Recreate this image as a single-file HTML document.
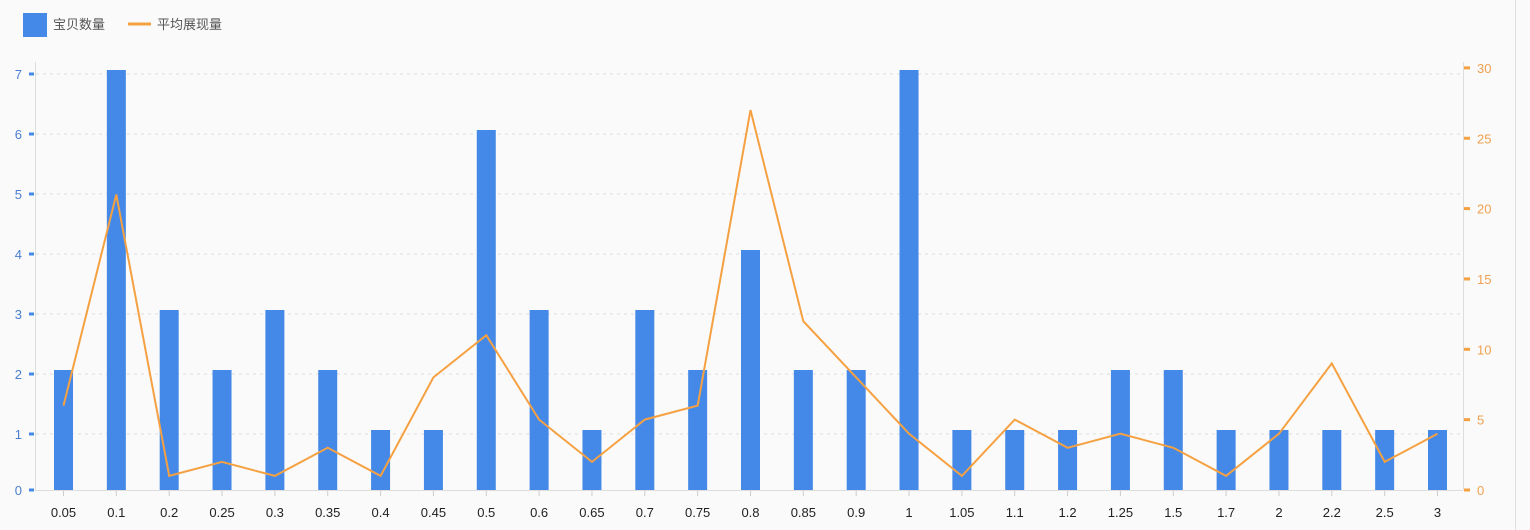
<!DOCTYPE html><html><head><meta charset="utf-8"><style>body{margin:0;background:#fafafa;}svg{display:block;font-family:"Liberation Sans","Noto Sans CJK SC",sans-serif}</style></head><body>
<svg width="1530" height="530" xmlns="http://www.w3.org/2000/svg">
<rect width="1530" height="530" fill="#fafafa"/>
<line x1="1515.5" y1="0" x2="1515.5" y2="530" stroke="#e0e0e0"/>
<rect x="23" y="13" width="24" height="24" fill="#4589e8"/>
<text x="53" y="29" font-size="13" fill="#555">宝贝数量</text>
<line x1="128" y1="24" x2="151" y2="24" stroke="#f5a142" stroke-width="3"/>
<text x="157" y="29" font-size="13" fill="#555">平均展现量</text>
<g id="c"></g>
</svg>
<script>
var bars=[2,7,3,2,3,2,1,1,6,3,1,3,2,4,2,2,7,1,1,1,2,2,1,1,1,1,1];
var line=[6,21,1,2,1,3,1,8,11,5,2,5,6,27,12,8,4,1,5,3,4,3,1,4,9,2,4];
var labs=["0.05","0.1","0.2","0.25","0.3","0.35","0.4","0.45","0.5","0.6","0.65","0.7","0.75","0.8","0.85","0.9","1","1.05","1.1","1.2","1.25","1.5","1.7","2","2.2","2.5","3"];
var s='',x0=63.5,dx=(1437-63)/26,y0=490;
for(var k=1;k<=7;k++){var y=y0-60*k+4;s+='<line x1="36" x2="1463" y1="'+y+'" y2="'+y+'" stroke="#ddd" stroke-dasharray="3,4"/>';}
for(var k=0;k<=7;k++){var y=y0-60*k+(k?4:0);s+='<rect x="29" y="'+(y-1.5)+'" width="5" height="3" fill="#4589e8"/><text x="22" y="'+(y+5)+'" font-size="13" fill="#4a7fd0" text-anchor="end">'+k+'</text>';}
for(var k=0;k<=6;k++){var y=y0-14.07*k*5;s+='<rect x="1464" y="'+(y-1.5)+'" width="6" height="3" fill="#f5a142"/><text x="1477" y="'+(y+5)+'" font-size="13" fill="#f0a050">'+(k*5)+'</text>';}
s+='<line x1="35.5" y1="62" x2="35.5" y2="490" stroke="#ddd"/><line x1="1463.5" y1="62" x2="1463.5" y2="490" stroke="#ddd"/><line x1="35" y1="490.5" x2="1463" y2="490.5" stroke="#ddd"/>';
var pts=[];
for(var i=0;i<27;i++){var x=x0+dx*i;s+='<rect x="'+(x-9.5)+'" y="'+(y0-60*bars[i])+'" width="19" height="'+(60*bars[i])+'" fill="#4589e8"/>';
s+='<line x1="'+x+'" x2="'+x+'" y1="491" y2="496" stroke="#ccc"/><text x="'+x+'" y="517" font-size="13" fill="#222" text-anchor="middle">'+labs[i]+'</text>';
pts.push(x.toFixed(1)+','+(y0-14.07*line[i]).toFixed(1));}
s+='<polyline points="'+pts.join(' ')+'" fill="none" stroke="#f5a142" stroke-width="2"/>';
document.getElementById('c').innerHTML=s;
</script></body></html>
